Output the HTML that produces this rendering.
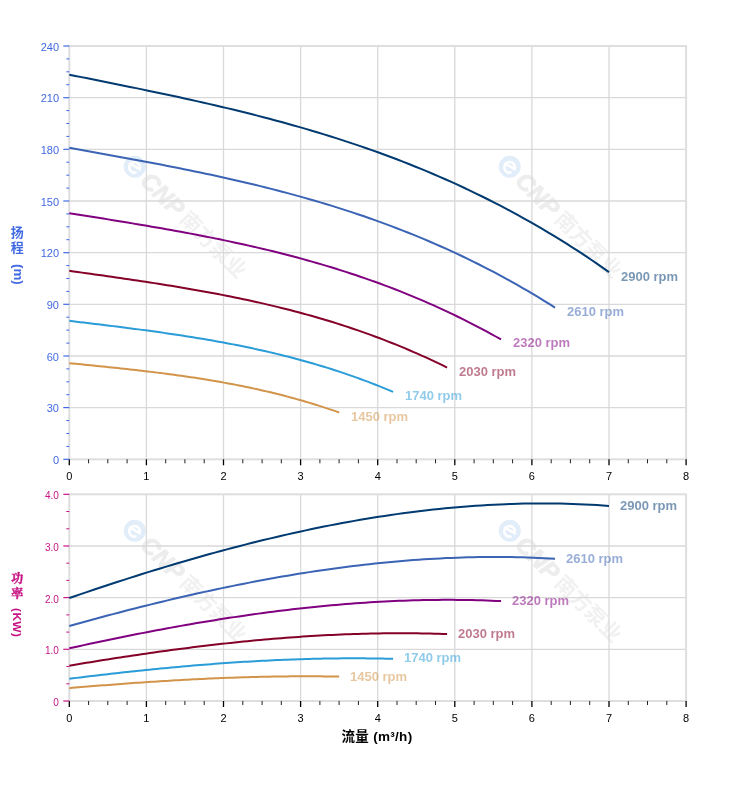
<!DOCTYPE html>
<html><head><meta charset="utf-8"><title>流量 扬程 功率</title>
<style>
html,body{margin:0;padding:0;background:#fff;}
body{width:752px;height:797px;position:relative;overflow:hidden;font-family:"Liberation Sans","Noto Sans CJK SC",sans-serif;}
svg{position:absolute;left:0;top:0;}
.tl{font-size:11px;}
.lab{position:absolute;font-weight:bold;font-size:13px;line-height:15px;white-space:nowrap;opacity:.52;}
.ytitle{position:absolute;font-weight:bold;font-size:13px;writing-mode:vertical-rl;line-height:16px;white-space:nowrap;}
.xtitle{position:absolute;font-weight:bold;letter-spacing:0.3px;font-size:13.5px;line-height:16px;white-space:nowrap;color:#000;}
.wm{position:absolute;transform-origin:0 50%;transform:rotate(45deg);white-space:nowrap;height:30px;line-height:30px;color:#ededed;font-weight:bold;font-size:0;}
.wm .c{position:static;display:inline-block;vertical-align:middle;margin-right:3px;}
.wm .e{font-style:italic;font-size:24px;font-weight:bold;vertical-align:middle;-webkit-text-stroke:0.9px #ededed;}
.wm .z{font-size:21px;font-weight:bold;vertical-align:middle;margin-left:4px;color:#f1f1f1}
.yt{position:absolute;font-weight:bold;writing-mode:vertical-rl;white-space:nowrap;line-height:16px;width:16px;}
</style></head><body>
<div class="wm" style="left:127.2px;top:144.2px"><svg class="c" width="22" height="22" viewBox="0 0 22 22"><circle cx="11" cy="11" r="11" fill="#e1edf8"/><path d="M5.5 12.2 L16 9.2 A5.3 5.3 0 1 0 15.6 14.6" fill="none" stroke="#fff" stroke-width="2.6" stroke-linecap="round"/></svg><span class="e">CNP</span><span class="z">南方泵业</span></div>
<div class="wm" style="left:501.7px;top:144.2px"><svg class="c" width="22" height="22" viewBox="0 0 22 22"><circle cx="11" cy="11" r="11" fill="#e1edf8"/><path d="M5.5 12.2 L16 9.2 A5.3 5.3 0 1 0 15.6 14.6" fill="none" stroke="#fff" stroke-width="2.6" stroke-linecap="round"/></svg><span class="e">CNP</span><span class="z">南方泵业</span></div>
<div class="wm" style="left:127.2px;top:508.2px"><svg class="c" width="22" height="22" viewBox="0 0 22 22"><circle cx="11" cy="11" r="11" fill="#e1edf8"/><path d="M5.5 12.2 L16 9.2 A5.3 5.3 0 1 0 15.6 14.6" fill="none" stroke="#fff" stroke-width="2.6" stroke-linecap="round"/></svg><span class="e">CNP</span><span class="z">南方泵业</span></div>
<div class="wm" style="left:501.7px;top:508.2px"><svg class="c" width="22" height="22" viewBox="0 0 22 22"><circle cx="11" cy="11" r="11" fill="#e1edf8"/><path d="M5.5 12.2 L16 9.2 A5.3 5.3 0 1 0 15.6 14.6" fill="none" stroke="#fff" stroke-width="2.6" stroke-linecap="round"/></svg><span class="e">CNP</span><span class="z">南方泵业</span></div>
<svg width="752" height="797" viewBox="0 0 752 797" font-family="Liberation Sans, sans-serif">
<line x1="146.4" y1="46.0" x2="146.4" y2="459.3" stroke="#d9d9d9" stroke-width="1.3"/>
<line x1="223.5" y1="46.0" x2="223.5" y2="459.3" stroke="#d9d9d9" stroke-width="1.3"/>
<line x1="300.6" y1="46.0" x2="300.6" y2="459.3" stroke="#d9d9d9" stroke-width="1.3"/>
<line x1="377.7" y1="46.0" x2="377.7" y2="459.3" stroke="#d9d9d9" stroke-width="1.3"/>
<line x1="454.8" y1="46.0" x2="454.8" y2="459.3" stroke="#d9d9d9" stroke-width="1.3"/>
<line x1="531.9" y1="46.0" x2="531.9" y2="459.3" stroke="#d9d9d9" stroke-width="1.3"/>
<line x1="609.0" y1="46.0" x2="609.0" y2="459.3" stroke="#d9d9d9" stroke-width="1.3"/>
<line x1="69.3" y1="407.6" x2="686.1" y2="407.6" stroke="#d9d9d9" stroke-width="1.3"/>
<line x1="69.3" y1="356.0" x2="686.1" y2="356.0" stroke="#d9d9d9" stroke-width="1.3"/>
<line x1="69.3" y1="304.3" x2="686.1" y2="304.3" stroke="#d9d9d9" stroke-width="1.3"/>
<line x1="69.3" y1="252.7" x2="686.1" y2="252.7" stroke="#d9d9d9" stroke-width="1.3"/>
<line x1="69.3" y1="201.0" x2="686.1" y2="201.0" stroke="#d9d9d9" stroke-width="1.3"/>
<line x1="69.3" y1="149.3" x2="686.1" y2="149.3" stroke="#d9d9d9" stroke-width="1.3"/>
<line x1="69.3" y1="97.7" x2="686.1" y2="97.7" stroke="#d9d9d9" stroke-width="1.3"/>
<rect x="69.3" y="46.0" width="616.8" height="413.3" fill="none" stroke="#dedede" stroke-width="2"/>
<line x1="146.4" y1="494.3" x2="146.4" y2="701.0" stroke="#d9d9d9" stroke-width="1.3"/>
<line x1="223.5" y1="494.3" x2="223.5" y2="701.0" stroke="#d9d9d9" stroke-width="1.3"/>
<line x1="300.6" y1="494.3" x2="300.6" y2="701.0" stroke="#d9d9d9" stroke-width="1.3"/>
<line x1="377.7" y1="494.3" x2="377.7" y2="701.0" stroke="#d9d9d9" stroke-width="1.3"/>
<line x1="454.8" y1="494.3" x2="454.8" y2="701.0" stroke="#d9d9d9" stroke-width="1.3"/>
<line x1="531.9" y1="494.3" x2="531.9" y2="701.0" stroke="#d9d9d9" stroke-width="1.3"/>
<line x1="609.0" y1="494.3" x2="609.0" y2="701.0" stroke="#d9d9d9" stroke-width="1.3"/>
<line x1="69.3" y1="649.3" x2="686.1" y2="649.3" stroke="#d9d9d9" stroke-width="1.3"/>
<line x1="69.3" y1="597.6" x2="686.1" y2="597.6" stroke="#d9d9d9" stroke-width="1.3"/>
<line x1="69.3" y1="546.0" x2="686.1" y2="546.0" stroke="#d9d9d9" stroke-width="1.3"/>
<rect x="69.3" y="494.3" width="616.8" height="206.7" fill="none" stroke="#dedede" stroke-width="2"/>
<line x1="69.3" y1="459.3" x2="69.3" y2="465.3" stroke="#000" stroke-width="1.3"/>
<line x1="88.6" y1="459.3" x2="88.6" y2="463.3" stroke="#222" stroke-width="1"/>
<line x1="107.8" y1="459.3" x2="107.8" y2="463.3" stroke="#222" stroke-width="1"/>
<line x1="127.1" y1="459.3" x2="127.1" y2="463.3" stroke="#222" stroke-width="1"/>
<line x1="146.4" y1="459.3" x2="146.4" y2="465.3" stroke="#000" stroke-width="1.3"/>
<line x1="165.7" y1="459.3" x2="165.7" y2="463.3" stroke="#222" stroke-width="1"/>
<line x1="184.9" y1="459.3" x2="184.9" y2="463.3" stroke="#222" stroke-width="1"/>
<line x1="204.2" y1="459.3" x2="204.2" y2="463.3" stroke="#222" stroke-width="1"/>
<line x1="223.5" y1="459.3" x2="223.5" y2="465.3" stroke="#000" stroke-width="1.3"/>
<line x1="242.8" y1="459.3" x2="242.8" y2="463.3" stroke="#222" stroke-width="1"/>
<line x1="262.1" y1="459.3" x2="262.1" y2="463.3" stroke="#222" stroke-width="1"/>
<line x1="281.3" y1="459.3" x2="281.3" y2="463.3" stroke="#222" stroke-width="1"/>
<line x1="300.6" y1="459.3" x2="300.6" y2="465.3" stroke="#000" stroke-width="1.3"/>
<line x1="319.9" y1="459.3" x2="319.9" y2="463.3" stroke="#222" stroke-width="1"/>
<line x1="339.1" y1="459.3" x2="339.1" y2="463.3" stroke="#222" stroke-width="1"/>
<line x1="358.4" y1="459.3" x2="358.4" y2="463.3" stroke="#222" stroke-width="1"/>
<line x1="377.7" y1="459.3" x2="377.7" y2="465.3" stroke="#000" stroke-width="1.3"/>
<line x1="397.0" y1="459.3" x2="397.0" y2="463.3" stroke="#222" stroke-width="1"/>
<line x1="416.2" y1="459.3" x2="416.2" y2="463.3" stroke="#222" stroke-width="1"/>
<line x1="435.5" y1="459.3" x2="435.5" y2="463.3" stroke="#222" stroke-width="1"/>
<line x1="454.8" y1="459.3" x2="454.8" y2="465.3" stroke="#000" stroke-width="1.3"/>
<line x1="474.1" y1="459.3" x2="474.1" y2="463.3" stroke="#222" stroke-width="1"/>
<line x1="493.3" y1="459.3" x2="493.3" y2="463.3" stroke="#222" stroke-width="1"/>
<line x1="512.6" y1="459.3" x2="512.6" y2="463.3" stroke="#222" stroke-width="1"/>
<line x1="531.9" y1="459.3" x2="531.9" y2="465.3" stroke="#000" stroke-width="1.3"/>
<line x1="551.2" y1="459.3" x2="551.2" y2="463.3" stroke="#222" stroke-width="1"/>
<line x1="570.4" y1="459.3" x2="570.4" y2="463.3" stroke="#222" stroke-width="1"/>
<line x1="589.7" y1="459.3" x2="589.7" y2="463.3" stroke="#222" stroke-width="1"/>
<line x1="609.0" y1="459.3" x2="609.0" y2="465.3" stroke="#000" stroke-width="1.3"/>
<line x1="628.3" y1="459.3" x2="628.3" y2="463.3" stroke="#222" stroke-width="1"/>
<line x1="647.5" y1="459.3" x2="647.5" y2="463.3" stroke="#222" stroke-width="1"/>
<line x1="666.8" y1="459.3" x2="666.8" y2="463.3" stroke="#222" stroke-width="1"/>
<line x1="686.1" y1="459.3" x2="686.1" y2="465.3" stroke="#000" stroke-width="1.3"/>
<text class="tl" x="69.3" y="480.3" text-anchor="middle" fill="#000">0</text>
<text class="tl" x="146.4" y="480.3" text-anchor="middle" fill="#000">1</text>
<text class="tl" x="223.5" y="480.3" text-anchor="middle" fill="#000">2</text>
<text class="tl" x="300.6" y="480.3" text-anchor="middle" fill="#000">3</text>
<text class="tl" x="377.7" y="480.3" text-anchor="middle" fill="#000">4</text>
<text class="tl" x="454.8" y="480.3" text-anchor="middle" fill="#000">5</text>
<text class="tl" x="531.9" y="480.3" text-anchor="middle" fill="#000">6</text>
<text class="tl" x="609.0" y="480.3" text-anchor="middle" fill="#000">7</text>
<text class="tl" x="686.1" y="480.3" text-anchor="middle" fill="#000">8</text>
<line x1="69.3" y1="701.0" x2="69.3" y2="707.0" stroke="#000" stroke-width="1.3"/>
<line x1="88.6" y1="701.0" x2="88.6" y2="705.0" stroke="#222" stroke-width="1"/>
<line x1="107.8" y1="701.0" x2="107.8" y2="705.0" stroke="#222" stroke-width="1"/>
<line x1="127.1" y1="701.0" x2="127.1" y2="705.0" stroke="#222" stroke-width="1"/>
<line x1="146.4" y1="701.0" x2="146.4" y2="707.0" stroke="#000" stroke-width="1.3"/>
<line x1="165.7" y1="701.0" x2="165.7" y2="705.0" stroke="#222" stroke-width="1"/>
<line x1="184.9" y1="701.0" x2="184.9" y2="705.0" stroke="#222" stroke-width="1"/>
<line x1="204.2" y1="701.0" x2="204.2" y2="705.0" stroke="#222" stroke-width="1"/>
<line x1="223.5" y1="701.0" x2="223.5" y2="707.0" stroke="#000" stroke-width="1.3"/>
<line x1="242.8" y1="701.0" x2="242.8" y2="705.0" stroke="#222" stroke-width="1"/>
<line x1="262.1" y1="701.0" x2="262.1" y2="705.0" stroke="#222" stroke-width="1"/>
<line x1="281.3" y1="701.0" x2="281.3" y2="705.0" stroke="#222" stroke-width="1"/>
<line x1="300.6" y1="701.0" x2="300.6" y2="707.0" stroke="#000" stroke-width="1.3"/>
<line x1="319.9" y1="701.0" x2="319.9" y2="705.0" stroke="#222" stroke-width="1"/>
<line x1="339.1" y1="701.0" x2="339.1" y2="705.0" stroke="#222" stroke-width="1"/>
<line x1="358.4" y1="701.0" x2="358.4" y2="705.0" stroke="#222" stroke-width="1"/>
<line x1="377.7" y1="701.0" x2="377.7" y2="707.0" stroke="#000" stroke-width="1.3"/>
<line x1="397.0" y1="701.0" x2="397.0" y2="705.0" stroke="#222" stroke-width="1"/>
<line x1="416.2" y1="701.0" x2="416.2" y2="705.0" stroke="#222" stroke-width="1"/>
<line x1="435.5" y1="701.0" x2="435.5" y2="705.0" stroke="#222" stroke-width="1"/>
<line x1="454.8" y1="701.0" x2="454.8" y2="707.0" stroke="#000" stroke-width="1.3"/>
<line x1="474.1" y1="701.0" x2="474.1" y2="705.0" stroke="#222" stroke-width="1"/>
<line x1="493.3" y1="701.0" x2="493.3" y2="705.0" stroke="#222" stroke-width="1"/>
<line x1="512.6" y1="701.0" x2="512.6" y2="705.0" stroke="#222" stroke-width="1"/>
<line x1="531.9" y1="701.0" x2="531.9" y2="707.0" stroke="#000" stroke-width="1.3"/>
<line x1="551.2" y1="701.0" x2="551.2" y2="705.0" stroke="#222" stroke-width="1"/>
<line x1="570.4" y1="701.0" x2="570.4" y2="705.0" stroke="#222" stroke-width="1"/>
<line x1="589.7" y1="701.0" x2="589.7" y2="705.0" stroke="#222" stroke-width="1"/>
<line x1="609.0" y1="701.0" x2="609.0" y2="707.0" stroke="#000" stroke-width="1.3"/>
<line x1="628.3" y1="701.0" x2="628.3" y2="705.0" stroke="#222" stroke-width="1"/>
<line x1="647.5" y1="701.0" x2="647.5" y2="705.0" stroke="#222" stroke-width="1"/>
<line x1="666.8" y1="701.0" x2="666.8" y2="705.0" stroke="#222" stroke-width="1"/>
<line x1="686.1" y1="701.0" x2="686.1" y2="707.0" stroke="#000" stroke-width="1.3"/>
<text class="tl" x="69.3" y="722.0" text-anchor="middle" fill="#000">0</text>
<text class="tl" x="146.4" y="722.0" text-anchor="middle" fill="#000">1</text>
<text class="tl" x="223.5" y="722.0" text-anchor="middle" fill="#000">2</text>
<text class="tl" x="300.6" y="722.0" text-anchor="middle" fill="#000">3</text>
<text class="tl" x="377.7" y="722.0" text-anchor="middle" fill="#000">4</text>
<text class="tl" x="454.8" y="722.0" text-anchor="middle" fill="#000">5</text>
<text class="tl" x="531.9" y="722.0" text-anchor="middle" fill="#000">6</text>
<text class="tl" x="609.0" y="722.0" text-anchor="middle" fill="#000">7</text>
<text class="tl" x="686.1" y="722.0" text-anchor="middle" fill="#000">8</text>
<line x1="63.3" y1="459.3" x2="69.3" y2="459.3" stroke="#4169e1" stroke-width="1.2"/>
<text class="tl" x="59" y="463.9" text-anchor="end" fill="#4169e1">0</text>
<line x1="66.3" y1="446.4" x2="69.3" y2="446.4" stroke="#4169e1" stroke-width="1"/>
<line x1="66.3" y1="433.5" x2="69.3" y2="433.5" stroke="#4169e1" stroke-width="1"/>
<line x1="66.3" y1="420.6" x2="69.3" y2="420.6" stroke="#4169e1" stroke-width="1"/>
<line x1="63.3" y1="407.6" x2="69.3" y2="407.6" stroke="#4169e1" stroke-width="1.2"/>
<text class="tl" x="59" y="412.2" text-anchor="end" fill="#4169e1">30</text>
<line x1="66.3" y1="394.7" x2="69.3" y2="394.7" stroke="#4169e1" stroke-width="1"/>
<line x1="66.3" y1="381.8" x2="69.3" y2="381.8" stroke="#4169e1" stroke-width="1"/>
<line x1="66.3" y1="368.9" x2="69.3" y2="368.9" stroke="#4169e1" stroke-width="1"/>
<line x1="63.3" y1="356.0" x2="69.3" y2="356.0" stroke="#4169e1" stroke-width="1.2"/>
<text class="tl" x="59" y="360.6" text-anchor="end" fill="#4169e1">60</text>
<line x1="66.3" y1="343.1" x2="69.3" y2="343.1" stroke="#4169e1" stroke-width="1"/>
<line x1="66.3" y1="330.1" x2="69.3" y2="330.1" stroke="#4169e1" stroke-width="1"/>
<line x1="66.3" y1="317.2" x2="69.3" y2="317.2" stroke="#4169e1" stroke-width="1"/>
<line x1="63.3" y1="304.3" x2="69.3" y2="304.3" stroke="#4169e1" stroke-width="1.2"/>
<text class="tl" x="59" y="308.9" text-anchor="end" fill="#4169e1">90</text>
<line x1="66.3" y1="291.4" x2="69.3" y2="291.4" stroke="#4169e1" stroke-width="1"/>
<line x1="66.3" y1="278.5" x2="69.3" y2="278.5" stroke="#4169e1" stroke-width="1"/>
<line x1="66.3" y1="265.6" x2="69.3" y2="265.6" stroke="#4169e1" stroke-width="1"/>
<line x1="63.3" y1="252.7" x2="69.3" y2="252.7" stroke="#4169e1" stroke-width="1.2"/>
<text class="tl" x="59" y="257.2" text-anchor="end" fill="#4169e1">120</text>
<line x1="66.3" y1="239.7" x2="69.3" y2="239.7" stroke="#4169e1" stroke-width="1"/>
<line x1="66.3" y1="226.8" x2="69.3" y2="226.8" stroke="#4169e1" stroke-width="1"/>
<line x1="66.3" y1="213.9" x2="69.3" y2="213.9" stroke="#4169e1" stroke-width="1"/>
<line x1="63.3" y1="201.0" x2="69.3" y2="201.0" stroke="#4169e1" stroke-width="1.2"/>
<text class="tl" x="59" y="205.6" text-anchor="end" fill="#4169e1">150</text>
<line x1="66.3" y1="188.1" x2="69.3" y2="188.1" stroke="#4169e1" stroke-width="1"/>
<line x1="66.3" y1="175.2" x2="69.3" y2="175.2" stroke="#4169e1" stroke-width="1"/>
<line x1="66.3" y1="162.2" x2="69.3" y2="162.2" stroke="#4169e1" stroke-width="1"/>
<line x1="63.3" y1="149.3" x2="69.3" y2="149.3" stroke="#4169e1" stroke-width="1.2"/>
<text class="tl" x="59" y="153.9" text-anchor="end" fill="#4169e1">180</text>
<line x1="66.3" y1="136.4" x2="69.3" y2="136.4" stroke="#4169e1" stroke-width="1"/>
<line x1="66.3" y1="123.5" x2="69.3" y2="123.5" stroke="#4169e1" stroke-width="1"/>
<line x1="66.3" y1="110.6" x2="69.3" y2="110.6" stroke="#4169e1" stroke-width="1"/>
<line x1="63.3" y1="97.7" x2="69.3" y2="97.7" stroke="#4169e1" stroke-width="1.2"/>
<text class="tl" x="59" y="102.3" text-anchor="end" fill="#4169e1">210</text>
<line x1="66.3" y1="84.7" x2="69.3" y2="84.7" stroke="#4169e1" stroke-width="1"/>
<line x1="66.3" y1="71.8" x2="69.3" y2="71.8" stroke="#4169e1" stroke-width="1"/>
<line x1="66.3" y1="58.9" x2="69.3" y2="58.9" stroke="#4169e1" stroke-width="1"/>
<line x1="63.3" y1="46.0" x2="69.3" y2="46.0" stroke="#4169e1" stroke-width="1.2"/>
<text class="tl" x="59" y="50.6" text-anchor="end" fill="#4169e1">240</text>
<line x1="63.3" y1="701.0" x2="69.3" y2="701.0" stroke="#c71585" stroke-width="1.2"/>
<text class="tl" style="font-size:10px" x="58.8" y="706.0" text-anchor="end" fill="#c71585">0</text>
<line x1="66.3" y1="683.8" x2="69.3" y2="683.8" stroke="#c71585" stroke-width="1"/>
<line x1="66.3" y1="666.5" x2="69.3" y2="666.5" stroke="#c71585" stroke-width="1"/>
<line x1="63.3" y1="649.3" x2="69.3" y2="649.3" stroke="#c71585" stroke-width="1.2"/>
<text class="tl" style="font-size:10px" x="58.8" y="654.3" text-anchor="end" fill="#c71585">1.0</text>
<line x1="66.3" y1="632.1" x2="69.3" y2="632.1" stroke="#c71585" stroke-width="1"/>
<line x1="66.3" y1="614.9" x2="69.3" y2="614.9" stroke="#c71585" stroke-width="1"/>
<line x1="63.3" y1="597.6" x2="69.3" y2="597.6" stroke="#c71585" stroke-width="1.2"/>
<text class="tl" style="font-size:10px" x="58.8" y="602.6" text-anchor="end" fill="#c71585">2.0</text>
<line x1="66.3" y1="580.4" x2="69.3" y2="580.4" stroke="#c71585" stroke-width="1"/>
<line x1="66.3" y1="563.2" x2="69.3" y2="563.2" stroke="#c71585" stroke-width="1"/>
<line x1="63.3" y1="546.0" x2="69.3" y2="546.0" stroke="#c71585" stroke-width="1.2"/>
<text class="tl" style="font-size:10px" x="58.8" y="551.0" text-anchor="end" fill="#c71585">3.0</text>
<line x1="66.3" y1="528.8" x2="69.3" y2="528.8" stroke="#c71585" stroke-width="1"/>
<line x1="66.3" y1="511.5" x2="69.3" y2="511.5" stroke="#c71585" stroke-width="1"/>
<line x1="63.3" y1="494.3" x2="69.3" y2="494.3" stroke="#c71585" stroke-width="1.2"/>
<text class="tl" style="font-size:10px" x="58.8" y="499.3" text-anchor="end" fill="#c71585">4.0</text>
<polyline points="69.30,74.68 75.36,75.90 81.43,77.11 87.49,78.33 93.56,79.54 99.62,80.76 105.68,81.98 111.75,83.20 117.81,84.43 123.88,85.66 129.94,86.90 136.00,88.14 142.07,89.39 148.13,90.65 154.20,91.92 160.26,93.20 166.32,94.49 172.39,95.79 178.45,97.10 184.52,98.42 190.58,99.76 196.64,101.11 202.71,102.48 208.77,103.87 214.84,105.27 220.90,106.69 226.97,108.13 233.03,109.59 239.09,111.07 245.16,112.56 251.22,114.09 257.29,115.63 263.35,117.20 269.41,118.79 275.48,120.41 281.54,122.05 287.61,123.72 293.67,125.42 299.73,127.15 305.80,128.90 311.86,130.69 317.93,132.51 323.99,134.36 330.05,136.24 336.12,138.15 342.18,140.10 348.25,142.08 354.31,144.10 360.37,146.16 366.44,148.25 372.50,150.39 378.57,152.56 384.63,154.77 390.69,157.02 396.76,159.31 402.82,161.65 408.89,164.03 414.95,166.45 421.01,168.92 427.08,171.43 433.14,173.99 439.21,176.60 445.27,179.25 451.33,181.96 457.40,184.71 463.46,187.51 469.53,190.37 475.59,193.28 481.66,196.24 487.72,199.25 493.78,202.32 499.85,205.44 505.91,208.62 511.98,211.86 518.04,215.15 524.10,218.51 530.17,221.92 536.23,225.39 542.30,228.93 548.36,232.52 554.42,236.18 560.49,239.91 566.55,243.69 572.62,247.54 578.68,251.46 584.74,255.45 590.81,259.50 596.87,263.62 602.94,267.81 609.00,272.07" fill="none" stroke="#003a70" stroke-width="2" stroke-linejoin="round"/>
<polyline points="69.30,598.05 75.36,595.97 81.43,593.90 87.49,591.84 93.56,589.80 99.62,587.77 105.68,585.76 111.75,583.77 117.81,581.79 123.88,579.83 129.94,577.88 136.00,575.96 142.07,574.05 148.13,572.16 154.20,570.28 160.26,568.43 166.32,566.59 172.39,564.78 178.45,562.98 184.52,561.20 190.58,559.45 196.64,557.71 202.71,556.00 208.77,554.30 214.84,552.63 220.90,550.98 226.97,549.35 233.03,547.75 239.09,546.16 245.16,544.60 251.22,543.07 257.29,541.56 263.35,540.07 269.41,538.60 275.48,537.17 281.54,535.75 287.61,534.37 293.67,533.00 299.73,531.67 305.80,530.36 311.86,529.08 317.93,527.82 323.99,526.59 330.05,525.39 336.12,524.22 342.18,523.08 348.25,521.96 354.31,520.88 360.37,519.82 366.44,518.79 372.50,517.80 378.57,516.83 384.63,515.90 390.69,514.99 396.76,514.12 402.82,513.28 408.89,512.47 414.95,511.69 421.01,510.95 427.08,510.24 433.14,509.56 439.21,508.91 445.27,508.30 451.33,507.73 457.40,507.19 463.46,506.68 469.53,506.21 475.59,505.77 481.66,505.38 487.72,505.01 493.78,504.69 499.85,504.40 505.91,504.14 511.98,503.93 518.04,503.75 524.10,503.61 530.17,503.51 536.23,503.45 542.30,503.43 548.36,503.45 554.42,503.51 560.49,503.61 566.55,503.74 572.62,503.92 578.68,504.14 584.74,504.41 590.81,504.71 596.87,505.06 602.94,505.44 609.00,505.88" fill="none" stroke="#003a70" stroke-width="2" stroke-linejoin="round"/>
<polyline points="69.30,147.76 74.76,148.74 80.22,149.73 85.67,150.71 91.13,151.70 96.59,152.68 102.05,153.67 107.50,154.66 112.96,155.65 118.42,156.65 123.88,157.65 129.33,158.66 134.79,159.68 140.25,160.69 145.71,161.72 151.16,162.76 156.62,163.80 162.08,164.85 167.54,165.92 173.00,166.99 178.45,168.07 183.91,169.17 189.37,170.28 194.83,171.40 200.28,172.54 205.74,173.69 211.20,174.85 216.66,176.03 222.11,177.23 227.57,178.44 233.03,179.68 238.49,180.93 243.94,182.20 249.40,183.49 254.86,184.80 260.32,186.13 265.78,187.48 271.23,188.86 276.69,190.26 282.15,191.68 287.61,193.13 293.06,194.60 298.52,196.09 303.98,197.62 309.44,199.17 314.89,200.75 320.35,202.36 325.81,203.99 331.27,205.66 336.72,207.35 342.18,209.08 347.64,210.84 353.10,212.63 358.55,214.45 364.01,216.31 369.47,218.20 374.93,220.13 380.39,222.09 385.84,224.09 391.30,226.13 396.76,228.20 402.22,230.31 407.67,232.46 413.13,234.65 418.59,236.88 424.05,239.15 429.50,241.47 434.96,243.82 440.42,246.22 445.88,248.66 451.33,251.14 456.79,253.67 462.25,256.25 467.71,258.87 473.17,261.54 478.62,264.26 484.08,267.02 489.54,269.84 495.00,272.70 500.45,275.61 505.91,278.58 511.37,281.59 516.83,284.66 522.28,287.78 527.74,290.95 533.20,294.18 538.66,297.46 544.11,300.80 549.57,304.19 555.03,307.64" fill="none" stroke="#3b64b4" stroke-width="2" stroke-linejoin="round"/>
<polyline points="69.30,625.95 74.76,624.43 80.22,622.92 85.67,621.42 91.13,619.93 96.59,618.46 102.05,616.99 107.50,615.54 112.96,614.10 118.42,612.67 123.88,611.25 129.33,609.84 134.79,608.45 140.25,607.07 145.71,605.71 151.16,604.36 156.62,603.02 162.08,601.69 167.54,600.38 173.00,599.09 178.45,597.81 183.91,596.54 189.37,595.29 194.83,594.06 200.28,592.84 205.74,591.63 211.20,590.45 216.66,589.28 222.11,588.12 227.57,586.99 233.03,585.87 238.49,584.77 243.94,583.68 249.40,582.61 254.86,581.57 260.32,580.54 265.78,579.52 271.23,578.53 276.69,577.56 282.15,576.60 287.61,575.67 293.06,574.75 298.52,573.86 303.98,572.98 309.44,572.13 314.89,571.29 320.35,570.48 325.81,569.69 331.27,568.92 336.72,568.17 342.18,567.44 347.64,566.74 353.10,566.06 358.55,565.40 364.01,564.76 369.47,564.15 374.93,563.56 380.39,562.99 385.84,562.45 391.30,561.93 396.76,561.44 402.22,560.97 407.67,560.52 413.13,560.10 418.59,559.71 424.05,559.34 429.50,559.00 434.96,558.68 440.42,558.39 445.88,558.12 451.33,557.89 456.79,557.68 462.25,557.49 467.71,557.34 473.17,557.21 478.62,557.11 484.08,557.03 489.54,556.99 495.00,556.97 500.45,556.99 505.91,557.03 511.37,557.10 516.83,557.20 522.28,557.33 527.74,557.49 533.20,557.68 538.66,557.90 544.11,558.16 549.57,558.44 555.03,558.75" fill="none" stroke="#3b64b4" stroke-width="2" stroke-linejoin="round"/>
<polyline points="69.30,213.15 74.15,213.92 79.00,214.70 83.85,215.48 88.70,216.26 93.56,217.03 98.41,217.82 103.26,218.60 108.11,219.38 112.96,220.17 117.81,220.96 122.66,221.76 127.51,222.56 132.37,223.37 137.22,224.18 142.07,224.99 146.92,225.82 151.77,226.65 156.62,227.49 161.47,228.34 166.32,229.19 171.18,230.06 176.03,230.94 180.88,231.82 185.73,232.72 190.58,233.63 195.43,234.55 200.28,235.48 205.13,236.43 209.99,237.39 214.84,238.36 219.69,239.35 224.54,240.36 229.39,241.37 234.24,242.41 239.09,243.46 243.94,244.53 248.80,245.62 253.65,246.72 258.50,247.85 263.35,248.99 268.20,250.15 273.05,251.34 277.90,252.54 282.75,253.76 287.61,255.01 292.46,256.28 297.31,257.57 302.16,258.89 307.01,260.23 311.86,261.60 316.71,262.98 321.56,264.40 326.42,265.84 331.27,267.31 336.12,268.80 340.97,270.33 345.82,271.88 350.67,273.46 355.52,275.06 360.37,276.70 365.23,278.37 370.08,280.07 374.93,281.80 379.78,283.56 384.63,285.36 389.48,287.18 394.33,289.04 399.18,290.94 404.04,292.87 408.89,294.83 413.74,296.83 418.59,298.87 423.44,300.94 428.29,303.05 433.14,305.19 437.99,307.38 442.85,309.60 447.70,311.86 452.55,314.16 457.40,316.51 462.25,318.89 467.10,321.31 471.95,323.78 476.80,326.28 481.66,328.83 486.51,331.43 491.36,334.06 496.21,336.75 501.06,339.47" fill="none" stroke="#800080" stroke-width="2" stroke-linejoin="round"/>
<polyline points="69.30,648.29 74.15,647.22 79.00,646.16 83.85,645.11 88.70,644.07 93.56,643.03 98.41,642.00 103.26,640.98 108.11,639.96 112.96,638.96 117.81,637.96 122.66,636.98 127.51,636.00 132.37,635.03 137.22,634.07 142.07,633.12 146.92,632.18 151.77,631.25 156.62,630.33 161.47,629.42 166.32,628.52 171.18,627.64 176.03,626.76 180.88,625.89 185.73,625.03 190.58,624.19 195.43,623.36 200.28,622.53 205.13,621.72 209.99,620.93 214.84,620.14 219.69,619.36 224.54,618.60 229.39,617.85 234.24,617.12 239.09,616.39 243.94,615.68 248.80,614.99 253.65,614.30 258.50,613.63 263.35,612.97 268.20,612.33 273.05,611.70 277.90,611.09 282.75,610.49 287.61,609.90 292.46,609.33 297.31,608.78 302.16,608.24 307.01,607.71 311.86,607.20 316.71,606.71 321.56,606.23 326.42,605.76 331.27,605.32 336.12,604.89 340.97,604.47 345.82,604.07 350.67,603.69 355.52,603.33 360.37,602.98 365.23,602.65 370.08,602.34 374.93,602.04 379.78,601.77 384.63,601.51 389.48,601.27 394.33,601.04 399.18,600.84 404.04,600.65 408.89,600.49 413.74,600.34 418.59,600.21 423.44,600.10 428.29,600.01 433.14,599.94 437.99,599.89 442.85,599.86 447.70,599.85 452.55,599.85 457.40,599.88 462.25,599.93 467.10,600.00 471.95,600.10 476.80,600.21 481.66,600.34 486.51,600.50 491.36,600.68 496.21,600.88 501.06,601.10" fill="none" stroke="#800080" stroke-width="2" stroke-linejoin="round"/>
<polyline points="69.30,270.84 73.54,271.43 77.79,272.03 82.03,272.62 86.28,273.22 90.52,273.82 94.77,274.41 99.01,275.01 103.26,275.61 107.50,276.22 111.75,276.82 115.99,277.43 120.24,278.05 124.48,278.66 128.73,279.28 132.97,279.91 137.22,280.54 141.46,281.18 145.71,281.82 149.95,282.47 154.20,283.13 158.44,283.79 162.69,284.46 166.93,285.14 171.18,285.83 175.42,286.52 179.67,287.23 183.91,287.94 188.16,288.66 192.40,289.40 196.64,290.15 200.89,290.90 205.13,291.67 209.38,292.45 213.62,293.24 217.87,294.05 222.11,294.87 226.36,295.70 230.60,296.55 234.85,297.41 239.09,298.28 243.34,299.17 247.58,300.08 251.83,301.00 256.07,301.94 260.32,302.89 264.56,303.86 268.81,304.85 273.05,305.86 277.30,306.89 281.54,307.93 285.79,309.00 290.03,310.08 294.28,311.18 298.52,312.31 302.77,313.45 307.01,314.62 311.26,315.80 315.50,317.01 319.75,318.24 323.99,319.50 328.23,320.78 332.48,322.08 336.72,323.40 340.97,324.75 345.21,326.12 349.46,327.52 353.70,328.95 357.95,330.40 362.19,331.88 366.44,333.38 370.68,334.91 374.93,336.47 379.17,338.05 383.42,339.67 387.66,341.31 391.91,342.98 396.15,344.69 400.40,346.42 404.64,348.18 408.89,349.97 413.13,351.80 417.38,353.65 421.62,355.54 425.87,357.46 430.11,359.41 434.36,361.40 438.60,363.42 442.85,365.47 447.09,367.56" fill="none" stroke="#840028" stroke-width="2" stroke-linejoin="round"/>
<polyline points="69.30,665.69 73.54,664.97 77.79,664.26 82.03,663.56 86.28,662.86 90.52,662.16 94.77,661.47 99.01,660.79 103.26,660.11 107.50,659.44 111.75,658.77 115.99,658.11 120.24,657.46 124.48,656.81 128.73,656.16 132.97,655.53 137.22,654.90 141.46,654.28 145.71,653.66 149.95,653.05 154.20,652.45 158.44,651.85 162.69,651.26 166.93,650.68 171.18,650.11 175.42,649.54 179.67,648.98 183.91,648.43 188.16,647.89 192.40,647.36 196.64,646.83 200.89,646.31 205.13,645.80 209.38,645.30 213.62,644.81 217.87,644.32 222.11,643.84 226.36,643.38 230.60,642.92 234.85,642.47 239.09,642.03 243.34,641.60 247.58,641.18 251.83,640.77 256.07,640.36 260.32,639.97 264.56,639.59 268.81,639.22 273.05,638.86 277.30,638.50 281.54,638.16 285.79,637.83 290.03,637.51 294.28,637.20 298.52,636.90 302.77,636.61 307.01,636.33 311.26,636.07 315.50,635.81 319.75,635.57 323.99,635.34 328.23,635.11 332.48,634.91 336.72,634.71 340.97,634.52 345.21,634.35 349.46,634.19 353.70,634.04 357.95,633.90 362.19,633.78 366.44,633.66 370.68,633.56 374.93,633.48 379.17,633.40 383.42,633.34 387.66,633.30 391.91,633.26 396.15,633.24 400.40,633.23 404.64,633.24 408.89,633.26 413.13,633.29 417.38,633.34 421.62,633.40 425.87,633.48 430.11,633.57 434.36,633.67 438.60,633.79 442.85,633.92 447.09,634.07" fill="none" stroke="#840028" stroke-width="2" stroke-linejoin="round"/>
<polyline points="69.30,320.84 72.94,321.28 76.58,321.71 80.22,322.15 83.85,322.59 87.49,323.03 91.13,323.46 94.77,323.90 98.41,324.35 102.05,324.79 105.68,325.24 109.32,325.68 112.96,326.13 116.60,326.59 120.24,327.04 123.88,327.50 127.51,327.97 131.15,328.43 134.79,328.91 138.43,329.38 142.07,329.87 145.71,330.35 149.35,330.85 152.98,331.34 156.62,331.85 160.26,332.36 163.90,332.88 167.54,333.40 171.18,333.94 174.81,334.48 178.45,335.02 182.09,335.58 185.73,336.14 189.37,336.72 193.01,337.30 196.64,337.89 200.28,338.49 203.92,339.10 207.56,339.73 211.20,340.36 214.84,341.00 218.48,341.65 222.11,342.32 225.75,343.00 229.39,343.69 233.03,344.39 236.67,345.10 240.31,345.83 243.94,346.57 247.58,347.32 251.22,348.09 254.86,348.87 258.50,349.67 262.14,350.48 265.78,351.30 269.41,352.15 273.05,353.00 276.69,353.87 280.33,354.76 283.97,355.67 287.61,356.59 291.24,357.53 294.88,358.48 298.52,359.46 302.16,360.45 305.80,361.46 309.44,362.48 313.07,363.53 316.71,364.60 320.35,365.68 323.99,366.79 327.63,367.91 331.27,369.06 334.91,370.22 338.54,371.41 342.18,372.61 345.82,373.84 349.46,375.09 353.10,376.37 356.74,377.66 360.37,378.98 364.01,380.32 367.65,381.68 371.29,383.07 374.93,384.48 378.57,385.91 382.20,387.37 385.84,388.86 389.48,390.36 393.12,391.90" fill="none" stroke="#2a9cd8" stroke-width="2" stroke-linejoin="round"/>
<polyline points="69.30,678.76 72.94,678.31 76.58,677.87 80.22,677.42 83.85,676.98 87.49,676.54 91.13,676.11 94.77,675.68 98.41,675.25 102.05,674.83 105.68,674.41 109.32,673.99 112.96,673.58 116.60,673.17 120.24,672.77 123.88,672.36 127.51,671.97 131.15,671.58 134.79,671.19 138.43,670.80 142.07,670.42 145.71,670.05 149.35,669.68 152.98,669.31 156.62,668.95 160.26,668.60 163.90,668.24 167.54,667.90 171.18,667.56 174.81,667.22 178.45,666.89 182.09,666.56 185.73,666.24 189.37,665.92 193.01,665.61 196.64,665.31 200.28,665.01 203.92,664.71 207.56,664.42 211.20,664.14 214.84,663.86 218.48,663.59 222.11,663.33 225.75,663.07 229.39,662.82 233.03,662.57 236.67,662.33 240.31,662.09 243.94,661.87 247.58,661.64 251.22,661.43 254.86,661.22 258.50,661.02 262.14,660.82 265.78,660.63 269.41,660.45 273.05,660.28 276.69,660.11 280.33,659.95 283.97,659.79 287.61,659.65 291.24,659.51 294.88,659.38 298.52,659.25 302.16,659.14 305.80,659.03 309.44,658.93 313.07,658.83 316.71,658.75 320.35,658.67 323.99,658.60 327.63,658.53 331.27,658.48 334.91,658.43 338.54,658.39 342.18,658.36 345.82,658.34 349.46,658.33 353.10,658.33 356.74,658.33 360.37,658.34 364.01,658.36 367.65,658.39 371.29,658.43 374.93,658.48 378.57,658.54 382.20,658.60 385.84,658.68 389.48,658.76 393.12,658.85" fill="none" stroke="#2a9cd8" stroke-width="2" stroke-linejoin="round"/>
<polyline points="69.30,363.15 72.33,363.45 75.36,363.75 78.40,364.06 81.43,364.36 84.46,364.67 87.49,364.97 90.52,365.28 93.56,365.58 96.59,365.89 99.62,366.20 102.65,366.51 105.68,366.82 108.72,367.14 111.75,367.45 114.78,367.77 117.81,368.10 120.84,368.42 123.88,368.75 126.91,369.08 129.94,369.42 132.97,369.75 136.00,370.10 139.04,370.44 142.07,370.79 145.10,371.15 148.13,371.51 151.16,371.87 154.20,372.24 157.23,372.62 160.26,373.00 163.29,373.38 166.32,373.77 169.36,374.17 172.39,374.58 175.42,374.99 178.45,375.41 181.48,375.83 184.52,376.26 187.55,376.70 190.58,377.15 193.61,377.60 196.64,378.06 199.68,378.53 202.71,379.01 205.74,379.50 208.77,380.00 211.81,380.50 214.84,381.02 217.87,381.54 220.90,382.07 223.93,382.61 226.97,383.17 230.00,383.73 233.03,384.30 236.06,384.89 239.09,385.48 242.13,386.09 245.16,386.70 248.19,387.33 251.22,387.97 254.25,388.62 257.29,389.29 260.32,389.96 263.35,390.65 266.38,391.35 269.41,392.07 272.45,392.79 275.48,393.53 278.51,394.29 281.54,395.05 284.57,395.84 287.61,396.63 290.64,397.44 293.67,398.26 296.70,399.10 299.73,399.96 302.77,400.82 305.80,401.71 308.83,402.61 311.86,403.52 314.89,404.45 317.93,405.40 320.96,406.36 323.99,407.34 327.02,408.34 330.05,409.35 333.09,410.38 336.12,411.43 339.15,412.49" fill="none" stroke="#d2944a" stroke-width="2" stroke-linejoin="round"/>
<polyline points="69.30,688.13 72.33,687.87 75.36,687.61 78.40,687.36 81.43,687.10 84.46,686.85 87.49,686.60 90.52,686.35 93.56,686.10 96.59,685.85 99.62,685.61 102.65,685.37 105.68,685.13 108.72,684.89 111.75,684.66 114.78,684.43 117.81,684.20 120.84,683.97 123.88,683.75 126.91,683.53 129.94,683.31 132.97,683.09 136.00,682.87 139.04,682.66 142.07,682.45 145.10,682.25 148.13,682.04 151.16,681.84 154.20,681.65 157.23,681.45 160.26,681.26 163.29,681.07 166.32,680.88 169.36,680.70 172.39,680.52 175.42,680.34 178.45,680.17 181.48,680.00 184.52,679.83 187.55,679.67 190.58,679.51 193.61,679.35 196.64,679.20 199.68,679.05 202.71,678.90 205.74,678.76 208.77,678.62 211.81,678.48 214.84,678.35 217.87,678.22 220.90,678.10 223.93,677.98 226.97,677.86 230.00,677.75 233.03,677.64 236.06,677.53 239.09,677.43 242.13,677.34 245.16,677.24 248.19,677.15 251.22,677.07 254.25,676.99 257.29,676.91 260.32,676.84 263.35,676.77 266.38,676.71 269.41,676.65 272.45,676.60 275.48,676.55 278.51,676.50 281.54,676.46 284.57,676.42 287.61,676.39 290.64,676.37 293.67,676.34 296.70,676.33 299.73,676.31 302.77,676.31 305.80,676.30 308.83,676.31 311.86,676.31 314.89,676.33 317.93,676.34 320.96,676.37 323.99,676.39 327.02,676.43 330.05,676.46 333.09,676.51 336.12,676.56 339.15,676.61" fill="none" stroke="#d2944a" stroke-width="2" stroke-linejoin="round"/>
</svg>
<div class="lab" style="left:621.0px;top:269.0px;color:#003a70">2900 rpm</div>
<div class="lab" style="left:620.0px;top:498.0px;color:#003a70">2900 rpm</div>
<div class="lab" style="left:567.0px;top:304.0px;color:#3b64b4">2610 rpm</div>
<div class="lab" style="left:566.0px;top:551.0px;color:#3b64b4">2610 rpm</div>
<div class="lab" style="left:513.0px;top:335.0px;color:#800080">2320 rpm</div>
<div class="lab" style="left:512.0px;top:593.0px;color:#800080">2320 rpm</div>
<div class="lab" style="left:459.0px;top:364.0px;color:#840028">2030 rpm</div>
<div class="lab" style="left:458.0px;top:626.0px;color:#840028">2030 rpm</div>
<div class="lab" style="left:405.0px;top:388.0px;color:#2a9cd8">1740 rpm</div>
<div class="lab" style="left:404.0px;top:650.0px;color:#2a9cd8">1740 rpm</div>
<div class="lab" style="left:351.0px;top:409.0px;color:#d2944a">1450 rpm</div>
<div class="lab" style="left:350.0px;top:669.0px;color:#d2944a">1450 rpm</div>
<div class="yt" style="left:7.8px;top:226px;color:#4169e1;font-size:13px;letter-spacing:1.9px">扬程</div>
<div class="yt" style="left:9.5px;top:263.7px;color:#4169e1;font-size:13.33px">(m)</div>
<div class="yt" style="left:7.8px;top:571.8px;color:#c71585;font-size:12px;letter-spacing:3px;font-weight:700;-webkit-text-stroke:0.4px #c71585;font-family:'Liberation Sans','Noto Serif CJK SC',serif">功率</div>
<div class="yt" style="left:8.6px;top:607.6px;color:#c71585;font-size:11.8px;letter-spacing:0.45px">(KW)</div>
<div class="xtitle" style="left:341.5px;top:729.3px">流量 (m³/h)</div>
</body></html>
